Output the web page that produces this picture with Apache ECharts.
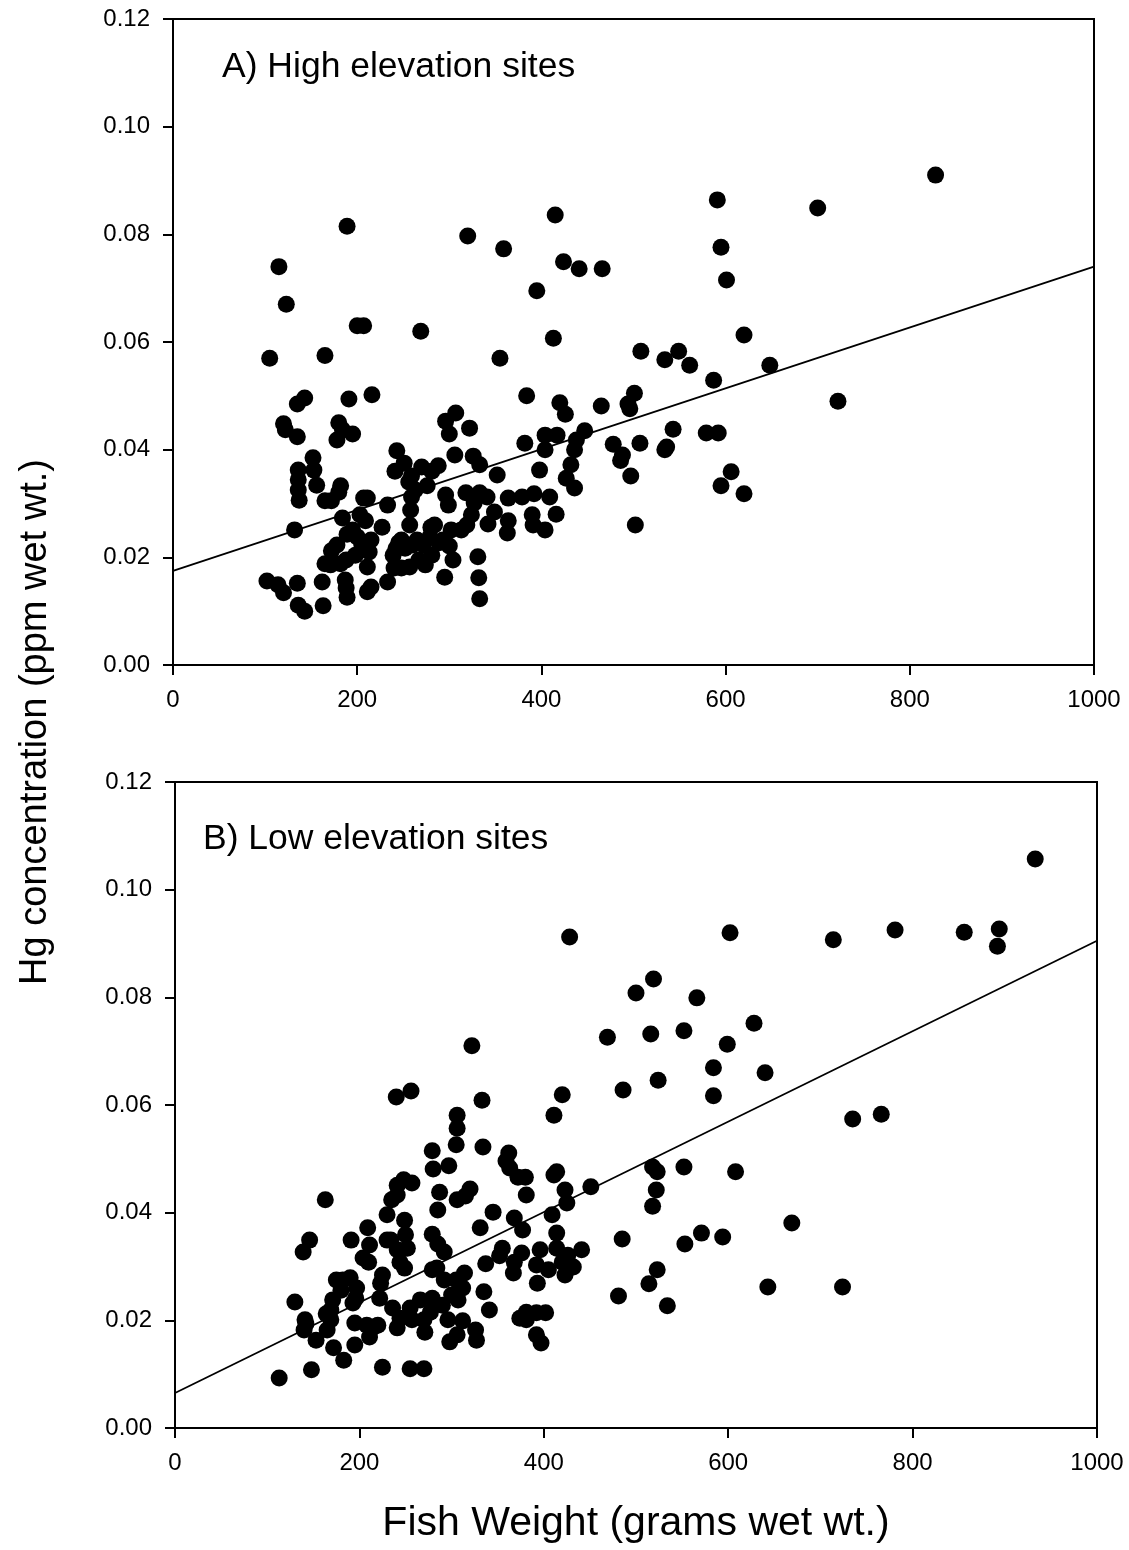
<!DOCTYPE html>
<html><head><meta charset="utf-8">
<script src="https://cdn.jsdelivr.net/npm/echarts@6/dist/echarts.min.js"></script>
<style>html,body{margin:0;padding:0;background:#fff}#c{width:1129px;height:1550px}</style>
</head><body><div id="c"></div>
<script>
// Panel A: high elevation sites, [weight g, Hg ppm]
var highSites = [
[115,0.074],[123,0.067],[105,0.057],[189,0.0815],[200,0.063],[207,0.063],[165,0.0575],[269,0.062],
[320,0.0797],[359,0.0773],[415,0.0836],[424,0.0749],[441,0.0736],[466,0.0736],[395,0.0695],[413,0.0607],
[355,0.057],[591,0.0864],[595,0.0776],[601,0.0715],[700,0.0849],[828,0.091],[722,0.049],[648,0.0557],
[620,0.0613],[561,0.0557],[549,0.0583],[534,0.0567],[508,0.0583],[501,0.0505],[494,0.0485],[496,0.0476],
[465,0.0481],[587,0.0529],[579,0.0431],[592,0.0431],[595,0.0333],[606,0.0359],[620,0.0318],[543,0.0438],
[536,0.0405],[534,0.040],[507,0.0412],[497,0.0351],[502,0.026],[478,0.041],[488,0.039],[486,0.038],
[447,0.0435],[438,0.0418],[436,0.040],[432,0.0372],[427,0.0347],[436,0.0329],[420,0.0487],[426,0.0466],
[417,0.0427],[404,0.0427],[404,0.040],[398,0.0362],[409,0.0312],[416,0.028],[404,0.0251],[391,0.026],
[390,0.0279],[384,0.050],[382,0.0412],[392,0.0318],[379,0.0312],[364,0.031],[364,0.0268],[363,0.0245],
[352,0.0353],[349,0.0284],[341,0.0312],[342,0.0262],[333,0.032],[333,0.0372],[326,0.0388],[327,0.0301],
[324,0.0279],[319,0.026],[313,0.0251],[318,0.032],[307,0.0468],[322,0.044],[296,0.0453],[300,0.0429],
[288,0.037],[296,0.0316],[299,0.0297],[306,0.039],[331,0.0201],[332,0.0162],[333,0.0123],[302,0.0251],
[293,0.0232],[300,0.0221],[304,0.0195],[295,0.0163],[284,0.026],[279,0.0238],[272,0.0223],[281,0.0204],
[274,0.0186],[265,0.0232],[260,0.0223],[267,0.0195],[257,0.0182],[248,0.0232],[242,0.0216],[240,0.018],
[257,0.026],[258,0.0288],[259,0.0312],[256,0.034],[251,0.0375],[243,0.0398],[259,0.0351],[270,0.0368],
[281,0.036],[263,0.0325],[276,0.0333],[233,0.0297],[227,0.0256],[233,0.0154],[215,0.0232],[213,0.021],
[211,0.0182],[211,0.0136],[215,0.0145],[205,0.0223],[200,0.0238],[203,0.0279],[207,0.031],[211,0.031],
[209,0.0268],[198,0.0204],[195,0.0251],[189,0.0243],[188,0.0195],[182,0.0188],[187,0.0158],[188,0.0143],
[189,0.0126],[178,0.0223],[172,0.0212],[165,0.0188],[171,0.0186],[162,0.0154],[163,0.011],[182,0.0333],
[180,0.0321],[184,0.0273],[165,0.0305],[172,0.0305],[191,0.0494],[195,0.0429],[180,0.045],[184,0.0437],
[178,0.0418],[216,0.0502],[143,0.0496],[135,0.0485],[120,0.0448],[122,0.0437],[135,0.0424],[136,0.0362],
[136,0.0344],[136,0.0325],[137,0.0306],[152,0.0385],[153,0.0362],[156,0.0334],[132,0.0251],[102,0.0156],
[114,0.0149],[120,0.0134],[135,0.0152],[136,0.0111],[143,0.010],[239,0.0204],[245,0.0227],[252,0.0217],
[280,0.0256],[289,0.0227],[241,0.036],[248,0.018]
];
// Panel B: low elevation sites
var lowSites = [
[933,0.1057],[894,0.0927],[892,0.0895],[856,0.0921],[781,0.0925],[714,0.0907],[602,0.092],[428,0.0912],
[766,0.0583],[735,0.0574],[724,0.0262],[643,0.0262],[669,0.0381],[640,0.066],[608,0.0476],[594,0.0355],
[571,0.0362],[553,0.0342],[552,0.0485],[628,0.0752],[599,0.0713],[584,0.0669],[584,0.0617],[566,0.0799],
[552,0.0738],[519,0.0834],[500,0.0808],[516,0.0732],[524,0.0646],[518,0.0485],[523,0.0476],[522,0.0442],
[518,0.0412],[523,0.0294],[514,0.0268],[534,0.0227],[469,0.0726],[486,0.0628],[485,0.0351],[481,0.0245],
[451,0.0448],[420,0.0619],[411,0.0581],[414,0.0476],[411,0.047],[423,0.0442],[425,0.0418],[409,0.0396],
[414,0.0362],[414,0.0334],[426,0.0321],[432,0.0299],[420,0.0308],[423,0.0284],[441,0.0331],[405,0.0294],
[396,0.0331],[392,0.0303],[393,0.0269],[392,0.0214],[402,0.0214],[392,0.0173],[397,0.0158],[380,0.0466],
[381,0.0433],[377,0.0368],[368,0.039],[367,0.0288],[368,0.0308],[376,0.0325],[355,0.0334],[352,0.032],
[381,0.0215],[374,0.0204],[381,0.0201],[345,0.0401],[337,0.0305],[341,0.0219],[331,0.0372],[333,0.0609],
[322,0.071],[334,0.0522],[362,0.0511],[359,0.0496],[363,0.0483],[372,0.0466],[306,0.0581],[306,0.0557],
[305,0.0526],[297,0.0487],[320,0.0444],[315,0.0431],[306,0.0424],[287,0.0438],[285,0.0405],[279,0.0515],
[280,0.0481],[279,0.036],[285,0.0342],[292,0.0327],[335,0.0253],[312,0.026],[314,0.0288],[305,0.0275],
[300,0.0247],[307,0.0238],[312,0.0199],[326,0.0182],[327,0.0163],[306,0.0173],[298,0.016],[296,0.0201],
[290,0.0228],[279,0.0241],[284,0.0297],[292,0.0275],[270,0.0201],[271,0.0178],[277,0.0215],[279,0.0294],
[270,0.011],[255,0.011],[256,0.0626],[240,0.0615],[248,0.0461],[241,0.0451],[241,0.0433],[257,0.0455],
[249,0.0386],[250,0.0359],[252,0.0334],[244,0.0308],[249,0.0297],[235,0.0424],[230,0.0396],[234,0.0349],
[230,0.0349],[241,0.0331],[225,0.0284],[223,0.0269],[222,0.0241],[236,0.0223],[244,0.0204],[241,0.0186],
[255,0.0223],[257,0.0201],[266,0.0238],[220,0.0191],[225,0.0113],[211,0.0169],[216,0.0188],[208,0.0191],
[211,0.034],[210,0.0308],[209,0.0372],[204,0.0316],[195,0.0154],[195,0.0195],[193,0.0232],[191,0.0349],
[190,0.0279],[182,0.0275],[180,0.0256],[197,0.026],[196,0.0241],[175,0.0275],[171,0.0238],[169,0.0219],
[169,0.0201],[164,0.0212],[163,0.0424],[165,0.0182],[172,0.0149],[183,0.0126],[153,0.0163],[148,0.0108],
[141,0.0201],[140,0.0182],[146,0.0349],[139,0.0327],[130,0.0234],[113,0.0093],[142,0.0193]
];
// Regression line endpoints
var fitHigh = [[0,0.0175],[1000,0.074]];
var fitLow = [[0,0.0065],[1000,0.0905]];
var xTicks = [0,200,400,600,800,1000];
var yTicks = [0,0.02,0.04,0.06,0.08,0.10,0.12];
var panelTitles = ['A) High elevation sites','B) Low elevation sites'];
var yTitle = 'Hg concentration (ppm wet wt.)';
var xTitle = 'Fish Weight (grams wet wt.)';

var F = 'Liberation Sans, Arial, sans-serif';
function xAxis(idx){return {gridIndex:idx,type:'value',min:xTicks[0],max:xTicks[xTicks.length-1],interval:xTicks[1]-xTicks[0],
  axisLine:{show:true,onZero:false,lineStyle:{color:'#000',width:2}},axisTick:{show:true,length:10,lineStyle:{color:'#000',width:2}},
  axisLabel:{color:'#000',fontFamily:F,fontSize:24,margin:23,formatter:function(v){return String(v);}},splitLine:{show:false}};}
function yAxis(idx){return {gridIndex:idx,type:'value',min:yTicks[0],max:yTicks[yTicks.length-1],interval:0.02,
  axisLine:{show:true,onZero:false,lineStyle:{color:'#000',width:2}},axisTick:{show:true,length:10,lineStyle:{color:'#000',width:2}},
  axisLabel:{color:'#000',fontFamily:F,fontSize:24,margin:23,formatter:function(v){return v.toFixed(2);}},splitLine:{show:false}};}
var sym = {type:'scatter',symbol:'circle',symbolSize:17,itemStyle:{color:'#000',opacity:1},silent:true};
var chart = echarts.init(document.getElementById('c'),null,{renderer:'canvas'});
chart.setOption({
  animation:false,
  backgroundColor:'#fff',
  grid:[
    {left:173,top:19,width:921,height:646,show:true,borderColor:'#000',borderWidth:2,backgroundColor:'transparent'},
    {left:175,top:782,width:922,height:646,show:true,borderColor:'#000',borderWidth:2,backgroundColor:'transparent'}
  ],
  xAxis:[xAxis(0),xAxis(1)],
  yAxis:[yAxis(0),yAxis(1)],
  series:[
    Object.assign({},sym,{xAxisIndex:0,yAxisIndex:0,data:highSites}),
    {type:'line',xAxisIndex:0,yAxisIndex:0,data:fitHigh,showSymbol:false,lineStyle:{color:'#000',width:1.8},silent:true},
    Object.assign({},sym,{xAxisIndex:1,yAxisIndex:1,data:lowSites}),
    {type:'line',xAxisIndex:1,yAxisIndex:1,data:fitLow,showSymbol:false,lineStyle:{color:'#000',width:1.8},silent:true}
  ],
  graphic:[
    {type:'text',x:222,y:67,style:{text:panelTitles[0],font:'35.5px '+F,fill:'#000',verticalAlign:'middle'}},
    {type:'text',x:203,y:839,style:{text:panelTitles[1],font:'35.5px '+F,fill:'#000',verticalAlign:'middle'}},
    {type:'text',x:36,y:722,rotation:Math.PI/2,style:{text:yTitle,font:'38px '+F,fill:'#000',align:'center',verticalAlign:'middle'}},
    {type:'text',x:636,y:1524,style:{text:xTitle,font:'41px '+F,fill:'#000',align:'center',verticalAlign:'middle'}}
  ]
});
</script></body></html>
